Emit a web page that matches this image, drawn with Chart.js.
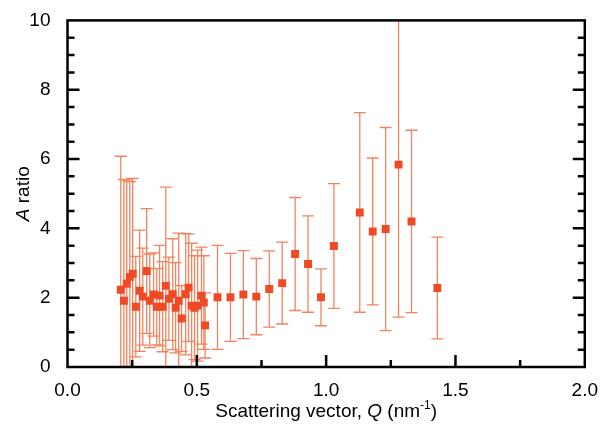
<!DOCTYPE html>
<html>
<head>
<meta charset="utf-8">
<script src="https://cdn.jsdelivr.net/npm/chart.js@4.4.1/dist/chart.umd.min.js"></script>
<style>
  html, body { margin: 0; padding: 0; background: #fff; }
  #wrap { width: 602px; height: 431px; }
</style>
</head>
<body>
<div id="wrap"><canvas id="grafico"></canvas></div>
<script>
// scattering vector Q (nm^-1), A ratio and its error (symmetric)
const q = [0.206, 0.218, 0.229, 0.241, 0.252, 0.264, 0.279, 0.291, 0.306, 0.318,
           0.333, 0.345, 0.356, 0.368, 0.380, 0.392, 0.407, 0.418, 0.430, 0.441,
           0.457, 0.468, 0.480, 0.491, 0.503, 0.518, 0.527, 0.532,
           0.58, 0.63, 0.68, 0.73, 0.78, 0.83, 0.88, 0.93, 0.98, 1.03,
           1.13, 1.18, 1.23, 1.28, 1.33, 1.43];
const aRatio = [2.23, 1.91, 2.40, 2.60, 2.69, 1.74, 2.20, 2.03, 2.77, 1.91,
                2.09, 1.74, 2.06, 1.74, 2.34, 1.97, 2.10, 1.71, 1.91, 1.40,
                2.10, 2.29, 1.77, 1.71, 1.77, 2.06, 1.86, 1.20,
                2.01, 2.01, 2.09, 2.03, 2.25, 2.42, 3.26, 2.97, 2.01, 3.49,
                4.46, 3.91, 3.98, 5.84, 4.20, 2.28];
const aErr = [3.85, 3.50, 3.00, 2.75, 2.75, 1.45, 1.75, 1.40, 1.80, 1.35,
              1.20, 1.10, 1.45, 1.30, 2.85, 1.20, 1.60, 1.30, 1.95, 0.95,
              1.75, 1.55, 1.80, 1.50, 1.60, 1.40, 1.35, 0.94,
              1.50, 1.27, 1.27, 1.10, 1.10, 1.18, 1.63, 1.39, 0.82, 1.80,
              2.88, 2.12, 2.93, 4.40, 2.63, 1.47];

const xTicks = [0, 0.5, 1.0, 1.5, 2.0];
const yTicks = [0, 2, 4, 6, 8, 10];

const corPonto = '#ef4a25';
const corBarra = '#f2835f';
const fonte = '"Liberation Sans", Arial, Helvetica, sans-serif';

const pontos = q.map((v, i) => ({ x: v, y: aRatio[i] }));

// error bars, drawn behind the squares
const barrasErro = {
    id: 'barrasErro',
    beforeDatasetsDraw(chart) {
        const { ctx, chartArea, scales: { x, y } } = chart;
        ctx.save();
        ctx.beginPath();
        ctx.rect(chartArea.left, chartArea.top, chartArea.width, chartArea.height);
        ctx.clip();
        ctx.strokeStyle = corBarra;
        ctx.lineWidth = 1.3;
        const cap = 6;
        for (let i = 0; i < q.length; i++) {
            const px = x.getPixelForValue(q[i]);
            const alto = y.getPixelForValue(aRatio[i] + aErr[i]);
            const baixo = y.getPixelForValue(aRatio[i] - aErr[i]);
            ctx.beginPath();
            ctx.moveTo(px, alto);
            ctx.lineTo(px, baixo);
            ctx.moveTo(px - cap, alto);
            ctx.lineTo(px + cap, alto);
            ctx.moveTo(px - cap, baixo);
            ctx.lineTo(px + cap, baixo);
            ctx.stroke();
        }
        ctx.restore();
    }
};

// frame, inward ticks and axis titles
const moldura = {
    id: 'moldura',
    afterDraw(chart) {
        const { ctx, chartArea: a, scales: { x, y } } = chart;
        ctx.save();
        ctx.strokeStyle = '#000';
        ctx.lineWidth = 2.5;
        ctx.lineCap = 'butt';
        ctx.beginPath();
        for (let v = 0; v <= 10.001; v += 0.5) {
            const py = y.getPixelForValue(v);
            const len = Math.abs(v % 2) < 0.01 ? 12 : 7;
            if (v > 0.01 && v < 9.99) {
                ctx.moveTo(a.left, py); ctx.lineTo(a.left + len, py);
                ctx.moveTo(a.right, py); ctx.lineTo(a.right - len, py);
            }
        }
        for (let v = 0.25; v < 2; v += 0.25) {
            const px = x.getPixelForValue(v);
            const len = Math.abs((v * 2) % 1) < 0.01 ? 12 : 7;
            ctx.moveTo(px, a.bottom); ctx.lineTo(px, a.bottom - len);
        }
        ctx.stroke();
        ctx.strokeRect(a.left, a.top, a.right - a.left, a.bottom - a.top);

        ctx.fillStyle = '#000';
        ctx.textBaseline = 'alphabetic';
        // x title with italic Q and superscript
        const partes = [
            { t: 'Scattering vector, ', f: '19px ' + fonte, dy: 0 },
            { t: 'Q', f: 'italic 19px ' + fonte, dy: 0 },
            { t: ' (nm', f: '19px ' + fonte, dy: 0 },
            { t: '-1', f: '12px ' + fonte, dy: -8 },
            { t: ')', f: '19px ' + fonte, dy: 0 }
        ];
        let total = 0;
        partes.forEach(p => { ctx.font = p.f; p.w = ctx.measureText(p.t).width; total += p.w; });
        let cx = (a.left + a.right) / 2 - total / 2;
        const base = 417;
        partes.forEach(p => {
            ctx.font = p.f;
            ctx.textAlign = 'left';
            ctx.fillText(p.t, cx, base + p.dy);
            cx += p.w;
        });

        // y title, rotated
        ctx.translate(29, (a.top + a.bottom) / 2);
        ctx.rotate(-Math.PI / 2);
        const py1 = { t: 'A', f: 'italic 19px ' + fonte };
        const py2 = { t: ' ratio', f: '19px ' + fonte };
        ctx.font = py1.f; const w1 = ctx.measureText(py1.t).width;
        ctx.font = py2.f; const w2 = ctx.measureText(py2.t).width;
        let sx = -(w1 + w2) / 2;
        ctx.font = py1.f; ctx.fillText(py1.t, sx, 0);
        ctx.font = py2.f; ctx.fillText(py2.t, sx + w1, 0);
        ctx.restore();
    }
};

new Chart(document.getElementById('grafico').getContext('2d'), {
    type: 'scatter',
    data: {
        datasets: [{
            label: 'A ratio',
            data: pontos,
            pointStyle: 'rect',
            pointRadius: 5.6,
            pointHoverRadius: 5.6,
            backgroundColor: corPonto,
            borderColor: corPonto,
            borderWidth: 0
        }]
    },
    options: {
        responsive: true,
        maintainAspectRatio: false,
        animation: false,
        events: [],
        layout: { padding: { left: 0, right: 15, top: 17, bottom: 0 } },
        plugins: {
            legend: { display: false },
            tooltip: { enabled: false }
        },
        scales: {
            x: {
                type: 'linear',
                min: 0,
                max: 2,
                afterBuildTicks: s => { s.ticks = xTicks.map(v => ({ value: v })); },
                afterFit: s => { s.height = 64; },
                grid: { display: false },
                border: { display: false },
                ticks: {
                    padding: 4,
                    color: '#000',
                    font: { family: fonte, size: 19 },
                    maxRotation: 0,
                    callback: v => v.toFixed(1)
                }
            },
            y: {
                type: 'linear',
                min: 0,
                max: 10,
                afterBuildTicks: s => { s.ticks = yTicks.map(v => ({ value: v })); },
                afterFit: s => { s.width = 67.5; },
                grid: { display: false },
                border: { display: false },
                ticks: {
                    padding: 9,
                    color: '#000',
                    font: { family: fonte, size: 19 }
                }
            }
        }
    },
    plugins: [barrasErro, moldura]
});
</script>
</body>
</html>
